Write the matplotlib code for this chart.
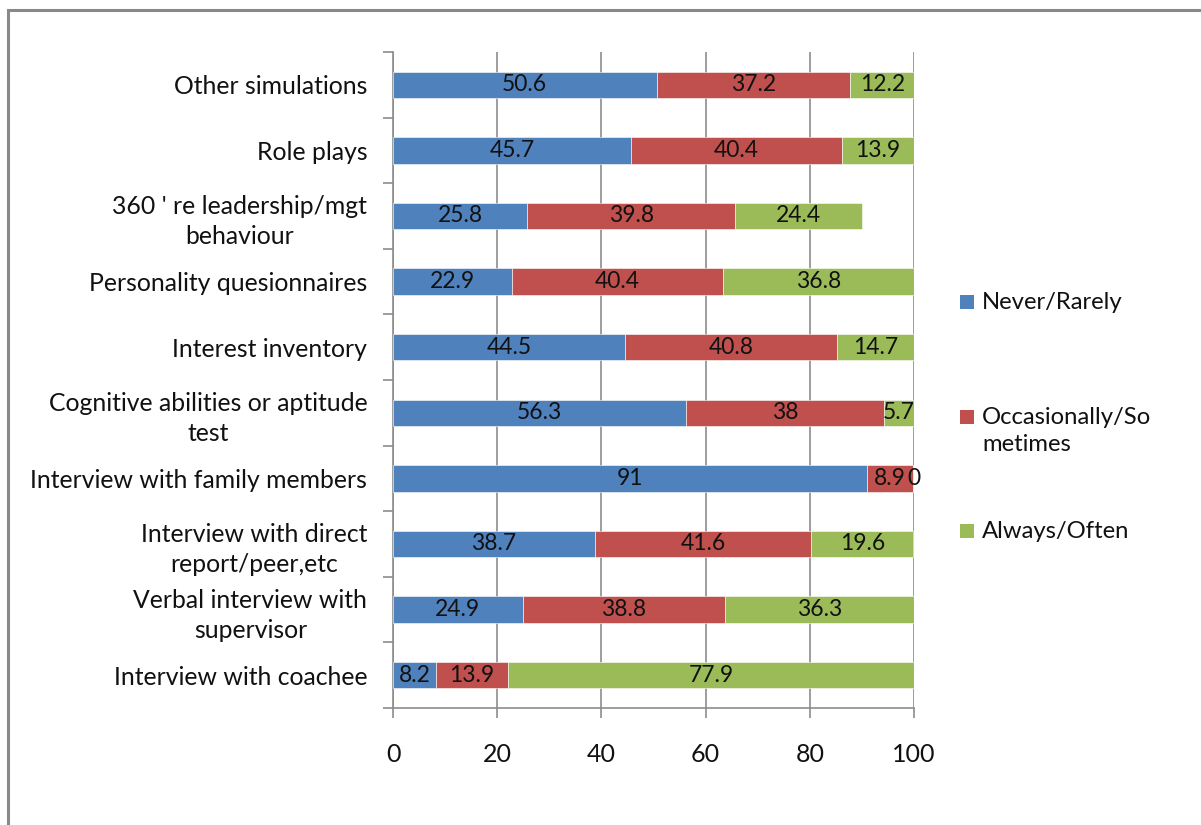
import matplotlib
matplotlib.use("Agg")
import matplotlib.pyplot as plt
from matplotlib.patches import Rectangle

plt.rcParams['font.family'] = ['Lato', 'DejaVu Sans']

categories = [
    "Interview with coachee",
    "Verbal interview with\nsupervisor",
    "Interview with direct\nreport/peer,etc",
    "Interview with family members",
    "Cognitive abilities or aptitude\ntest",
    "Interest inventory",
    "Personality quesionnaires",
    "360 ' re leadership/mgt\nbehaviour",
    "Role plays",
    "Other simulations",
]
never_rarely = [8.2, 24.9, 38.7, 91, 56.3, 44.5, 22.9, 25.8, 45.7, 50.6]
occasionally = [13.9, 38.8, 41.6, 8.9, 38, 40.8, 40.4, 39.8, 40.4, 37.2]
always_often = [77.9, 36.3, 19.6, 0, 5.7, 14.7, 36.8, 24.4, 13.9, 12.2]
series_names = ["Never/Rarely", "Occasionally/So\nmetimes", "Always/Often"]
colors = ["#4F81BD", "#C0504D", "#9BBB59"]
x_ticks = [0, 20, 40, 60, 80, 100]

W, H = 1201, 825
fig = plt.figure(figsize=(W / 100, H / 100), dpi=100)
fig.patch.set_facecolor("white")

# outer chart frame
fig.patches.append(Rectangle((8 / W, -0.05), 1.2, 1 - 10 / H + 0.05,
                             transform=fig.transFigure, fill=False,
                             edgecolor="#898989", linewidth=2.2))

ax = fig.add_axes([393 / W, 1 - 708 / H, (914 - 393) / W, (708 - 52) / H])

ypos = list(range(len(categories)))
left = [0] * len(categories)
grid_c = "#8C8C8C"
txt_c = "#111111"
for vals, name, col in zip([never_rarely, occasionally, always_often], series_names, colors):
    bars = ax.barh(ypos, vals, left=left, height=0.4, color=col, label=name,
                   edgecolor="white", linewidth=0.4, zorder=3)
    ax.bar_label(bars, label_type="center", fmt="%g", fontsize=16.5,
                 color=txt_c, zorder=4)
    left = [a + b for a, b in zip(left, vals)]

ax.set_xlim(0, 100)
ax.set_ylim(-0.5, len(categories) - 0.5)
ax.set_xticks(x_ticks)
ax.set_xticklabels([str(t) for t in x_ticks], fontsize=18, color=txt_c)
ax.set_yticks(ypos)
ax.set_yticklabels(categories, fontsize=17.8, color=txt_c,
                   multialignment="center", linespacing=1.38)
ax.tick_params(axis="y", length=0, pad=18.5)
ax.tick_params(axis="x", length=7, width=1.2, color=grid_c, pad=18)
ax.set_yticks([i - 0.5 for i in range(len(categories) + 1)], minor=True)
ax.tick_params(axis="y", which="minor", length=7, width=1.2, color=grid_c)

ax.grid(axis="x", color=grid_c, linewidth=1.2, zorder=0)
for s in ["top", "right"]:
    ax.spines[s].set_visible(False)
for s in ["left", "bottom"]:
    ax.spines[s].set_color(grid_c)
    ax.spines[s].set_linewidth(1.2)

# legend on the right
leg_y = [302, 417, 531]
for name, col, y in zip(series_names, colors, leg_y):
    fig.patches.append(Rectangle((960 / W, 1 - (y + 7) / H), 14 / W, 14 / H,
                                 transform=fig.transFigure, facecolor=col,
                                 edgecolor="none"))
    fig.text(982 / W, 1 - (y - 10) / H, name, fontsize=17.2, color=txt_c,
             va="top", ha="left", linespacing=1.38)

fig.savefig("out.png", dpi=100)
